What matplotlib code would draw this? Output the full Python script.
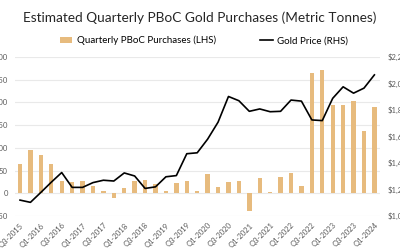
import matplotlib.pyplot as plt
import numpy as np

quarters = ["Q3-2015", "Q4-2015",
            "Q1-2016", "Q2-2016", "Q3-2016", "Q4-2016",
            "Q1-2017", "Q2-2017", "Q3-2017", "Q4-2017",
            "Q1-2018", "Q2-2018", "Q3-2018", "Q4-2018",
            "Q1-2019", "Q2-2019", "Q3-2019", "Q4-2019",
            "Q1-2020", "Q2-2020", "Q3-2020", "Q4-2020",
            "Q1-2021", "Q2-2021", "Q3-2021", "Q4-2021",
            "Q1-2022", "Q2-2022", "Q3-2022", "Q4-2022",
            "Q1-2023", "Q2-2023", "Q3-2023", "Q4-2023",
            "Q1-2024"]

# tonnes (LHS)
purchases = [65, 96, 84, 64, 27, 24, 26, 15, 6, -11,
             12, 27, 29, 20, 6, 23, 26, 5,
             42, 13, 24, 27, -39, 33, 3, 36,
             44, 16, 264, 272, 195, 195, 204, 137, 190]

# USD/oz (RHS)
gold_price = [1120, 1103, 1178, 1255, 1328, 1216, 1216, 1252, 1270, 1264,
              1325, 1302, 1208, 1220, 1296, 1305, 1470, 1477,
              1580, 1708, 1902, 1870, 1790, 1808, 1787, 1790,
              1875, 1867, 1725, 1720, 1888, 1975, 1927, 1965, 2065]

font = "Lato"
bar_color = "#E7BB7E"
grid_color = "#E9E9E9"
tick_color = "#5A5A5A"

x = np.arange(len(quarters))

fig = plt.figure(figsize=(4, 2.5), dpi=100)
ax = fig.add_axes([0.037, 0.136, 0.912, 0.636])
ax2 = ax.twinx()

bars = ax.bar(x, purchases, width=0.42, color=bar_color, zorder=2,
              label="Quarterly PBoC Purchases (LHS)")
line, = ax2.plot(x, gold_price, color="black", linewidth=1.2,
                 label="Gold Price (RHS)")

ax.set_xlim(-0.5, len(quarters) - 0.5)
ax.set_ylim(-50, 300)
ax.set_yticks(range(-50, 301, 50))
ax.grid(axis="y", color=grid_color, linewidth=0.8, zorder=0)
ax.set_axisbelow(True)

ax2.set_ylim(1000, 2200)
ax2.set_yticks(range(1000, 2201, 200))
ax2.set_yticklabels([f"${v:,}" for v in range(1000, 2201, 200)])

ax.set_xticks(x[::2])
ax.set_xticklabels(quarters[::2], rotation=45, ha="right",
                   rotation_mode="anchor")

for a in (ax, ax2):
    for s in a.spines.values():
        s.set_visible(False)
    a.tick_params(length=0, colors=tick_color, labelsize=5.5)
    for lab in a.get_xticklabels() + a.get_yticklabels():
        lab.set_fontfamily(font)
ax.tick_params(axis="y", pad=5)
ax.tick_params(axis="x", pad=4)
ax2.tick_params(axis="y", pad=6)

fig.text(0.5, 0.928, "Estimated Quarterly PBoC Gold Purchases (Metric Tonnes)",
         ha="center", va="center", fontsize=9.8, family=font, color="#262626")

fig.legend(handles=[bars, line], loc="center", bbox_to_anchor=(0.51, 0.838),
           ncol=2, frameon=False, prop={"family": font, "size": 7},
           handlelength=1.3, handleheight=0.6, columnspacing=4.5,
           handletextpad=0.5)

fig.savefig("out.png", dpi=100)
